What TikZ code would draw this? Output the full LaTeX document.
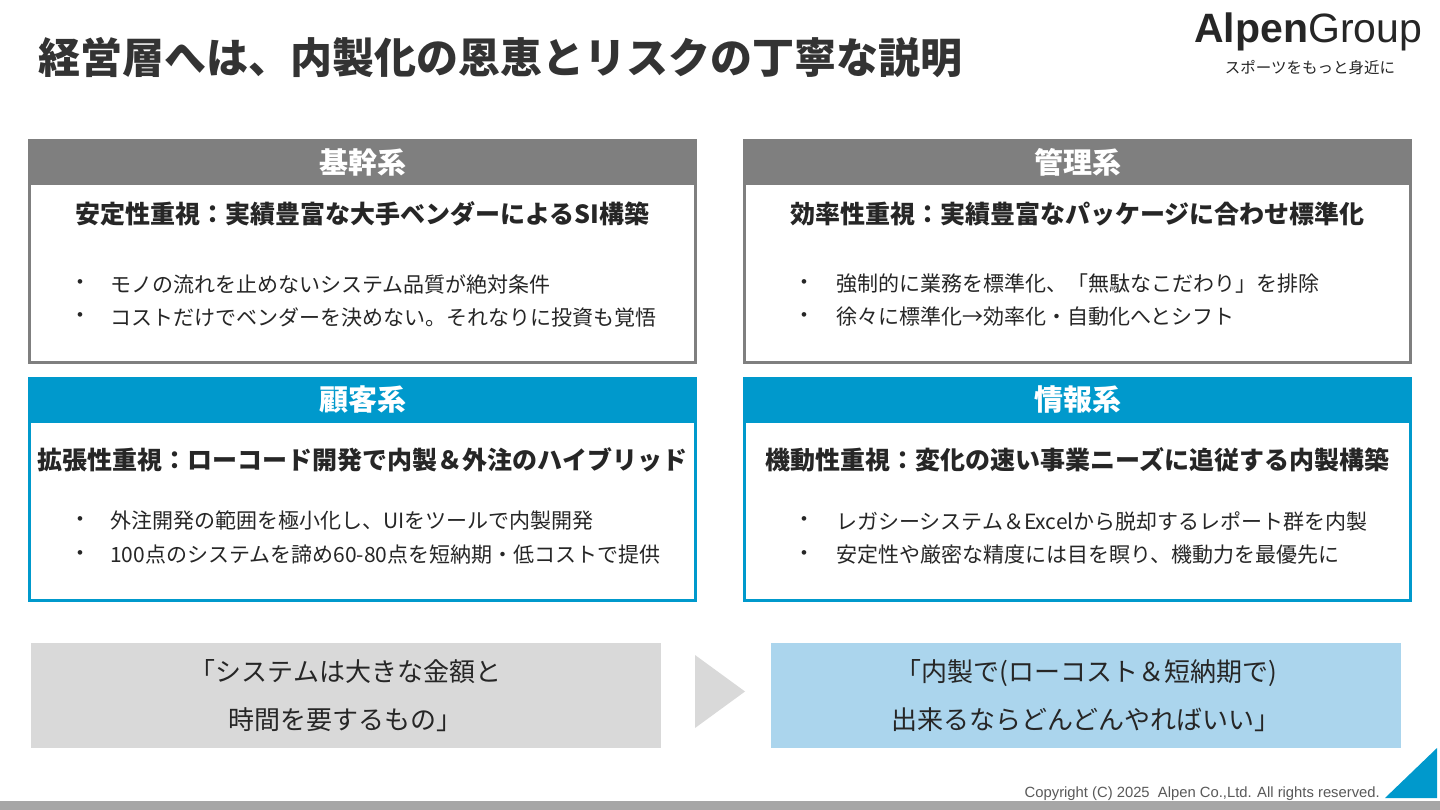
\documentclass[tikz,border=0pt]{standalone}
\usepackage{fontspec}
\setmainfont{Noto Sans CJK JP}
\newfontfamily\latinfont{Liberation Sans}
\usepackage{tikz}
\usetikzlibrary{positioning}
\definecolor{headgray}{HTML}{7F7F7F}
\definecolor{headblue}{HTML}{0099CC}
\definecolor{textdark}{HTML}{262626}
\definecolor{titlegray}{HTML}{333333}
\definecolor{boxgray}{HTML}{D9D9D9}
\definecolor{boxblue}{HTML}{ABD5ED}
\definecolor{bargray}{HTML}{A6A6A6}
\definecolor{copygray}{HTML}{595959}
\tikzset{
  panelframe/.style={draw=#1, line width=3pt, fill=white, minimum width=666pt, minimum height=222pt, inner sep=0pt},
  panelhead/.style={fill=#1, text=white, font=\bfseries\fontsize{29}{32}\selectfont, minimum width=669pt, minimum height=46pt, inner sep=0pt},
  panellead/.style={text=textdark, font=\bfseries\fontsize{25}{28}\selectfont, inner sep=0pt},
  itemdot/.style={text=textdark, font=\latinfont\fontsize{17}{22}\selectfont, inner sep=0pt},
  itemtext/.style={anchor=west, text=textdark, font=\fontsize{21}{24}\selectfont, inner sep=0pt},
  quotebox/.style={fill=#1, minimum width=630pt, minimum height=105pt, inner sep=0pt, align=center, text=textdark, font=\fontsize{26}{48}\selectfont},
}

\begin{document}
\begin{tikzpicture}[x=1pt,y=-1pt]
\useasboundingbox[fill=white] (0,0) rectangle (1440,810);
% title and logo
\node[anchor=west, text=titlegray, font=\bfseries\fontsize{42}{48}\selectfont, inner sep=0pt] (title) at (38,58) {経営層へは、内製化の恩恵とリスクの丁寧な説明};
\node[anchor=base west, text=textdark, font=\latinfont\fontsize{41}{44}\selectfont, inner sep=0pt] (logo) at (1194,43) {{\bfseries Alpen}Group};
\node[text=textdark, font=\fontsize{15.5}{18}\selectfont, inner sep=0pt] (tagline) at (1310,68) {スポーツをもっと身近に};
% panels
\node[panelframe=headgray] (kikan) at (362.5,251.5) {};
\node[panelhead=headgray] (kikanhead) at (362.5,162) {基幹系};
\node[panellead] (kikanlead) at (362.5,214) {安定性重視：実績豊富な大手ベンダーによるSI構築};
\node[itemdot] (kikandot1) at (80,284) {•};
\node[itemtext] (kikanitem1) at (110,284) {モノの流れを止めないシステム品質が絶対条件};
\node[itemdot] (kikandot2) at (80,317) {•};
\node[itemtext] (kikanitem2) at (110,317) {コストだけでベンダーを決めない。それなりに投資も覚悟};

\node[panelframe=headgray] (kanri) at (1077.5,251.5) {};
\node[panelhead=headgray] (kanrihead) at (1077.5,162) {管理系};
\node[panellead] (kanrilead) at (1077.5,214) {効率性重視：実績豊富なパッケージに合わせ標準化};
\node[itemdot] (kanridot1) at (804,284) {•};
\node[itemtext] (kanriitem1) at (836,284) {強制的に業務を標準化、「無駄なこだわり」を排除};
\node[itemdot] (kanridot2) at (804,317) {•};
\node[itemtext] (kanriitem2) at (836,317) {徐々に標準化→効率化・自動化へとシフト};

\node[panelframe=headblue] (kokyaku) at (362.5,489.5) {};
\node[panelhead=headblue] (kokyakuhead) at (362.5,400) {顧客系};
\node[panellead] (kokyakulead) at (362.5,460) {拡張性重視：ローコード開発で内製＆外注のハイブリッド};
\node[itemdot] (kokyakudot1) at (80,521) {•};
\node[itemtext] (kokyakuitem1) at (110,521) {外注開発の範囲を極小化し、UIをツールで内製開発};
\node[itemdot] (kokyakudot2) at (80,555) {•};
\node[itemtext] (kokyakuitem2) at (110,555) {100点のシステムを諦め60-80点を短納期・低コストで提供};

\node[panelframe=headblue] (joho) at (1077.5,489.5) {};
\node[panelhead=headblue] (johohead) at (1077.5,400) {情報系};
\node[panellead] (joholead) at (1077.5,460) {機動性重視：変化の速い事業ニーズに追従する内製構築};
\node[itemdot] (johodot1) at (804,521) {•};
\node[itemtext] (johoitem1) at (836,521) {レガシーシステム＆Excelから脱却するレポート群を内製};
\node[itemdot] (johodot2) at (804,555) {•};
\node[itemtext] (johoitem2) at (836,555) {安定性や厳密な精度には目を瞑り、機動力を最優先に};
% before / after
\node[quotebox=boxgray] (oldview) at (345.5,695.5) {「システムは大きな金額と\\時間を要するもの」};
\node[quotebox=boxblue] (newview) at (1086,695.5) {「内製で(ローコスト＆短納期で)\\出来るならどんどんやればいい」};
\fill[boxgray] (695,655) -- (745,691.5) -- (695,728) -- cycle;
% footer
\fill[bargray] (0,801) rectangle (1440,810);
\fill[headblue] (1385,798) -- (1437,748) -- (1437,798) -- cycle;
\node[anchor=base east, text=copygray, font=\latinfont\fontsize{14.8}{17}\selectfont, inner sep=0pt] (copyright) at (1380,797) {Copyright (C) 2025\ \ Alpen Co.,Ltd. All rights reserved.};
\end{tikzpicture}
\end{document}
